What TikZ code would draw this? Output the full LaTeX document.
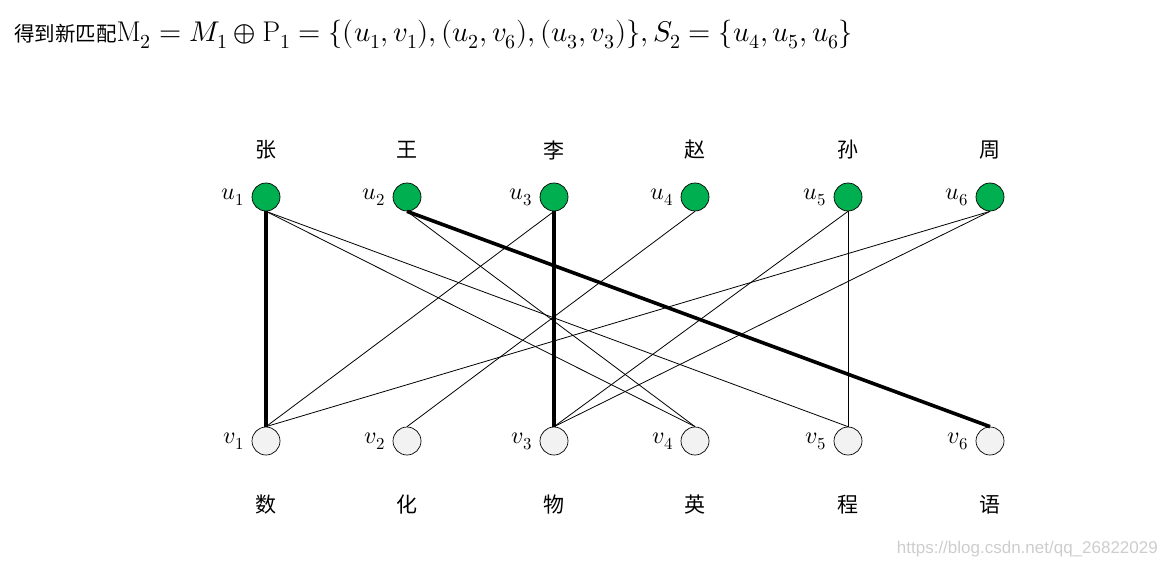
\documentclass[tikz,border=0pt]{standalone}
\usepackage{fontspec}
\usepackage{unicode-math}
\newfontfamily\cjk{Noto Sans CJK SC}
\newfontfamily\wmfont{Liberation Sans}
\definecolor{ugreen}{RGB}{0,176,80}
\definecolor{vgray}{RGB}{242,242,242}
\definecolor{wmgray}{RGB}{205,205,205}
\begin{document}
\begin{tikzpicture}[x=1pt,y=-1pt,
  unode/.style={circle,draw=black,fill=ugreen,minimum size=28pt,inner sep=0pt,line width=0.7pt},
  vnode/.style={circle,draw=black,fill=vgray,minimum size=28pt,inner sep=0pt,line width=0.7pt},
  lbl/.style={font=\fontsize{24}{28}\selectfont},
  cname/.style={font=\cjk\fontsize{21}{25}\selectfont},
  plainedge/.style={line width=0.8pt,draw=black},
  matchedge/.style={line width=3.6pt,draw=black}]
\useasboundingbox (0,0) rectangle (1166,567);
% title
\node[anchor=west,inner sep=0pt,font=\fontsize{28.5}{32}\selectfont] (title) at (14,35)
  {{\cjk\fontsize{20.5}{24}\selectfont 得到新匹配}$\mathrm{M}_2=M_1\oplus\mathrm{P}_1=\{(u_1,v_1),(u_2,v_6),(u_3,v_3)\},S_2=\{u_4,u_5,u_6\}$};
% nodes
\foreach \i/\x/\t/\b in {1/266/张/数,2/407/王/化,3/554/李/物,4/695/赵/英,5/848/孙/程,6/990/周/语}{
  \node[unode,label={[lbl,label distance=4pt]left:$u_{\i}$}] (u\i) at (\x,197) {};
  \node[vnode,label={[lbl,label distance=4pt]left:$v_{\i}$}] (v\i) at (\x,441) {};
  \node[cname] (t\i) at (\x,150) {\t};
  \node[cname] (b\i) at (\x,505) {\b};
}
% edges
\draw[plainedge] (u1.south) -- (v4.north);
\draw[plainedge] (u1.south) -- (v5.north);
\draw[plainedge] (u2.south) -- (v4.north);
\draw[plainedge] (u3.south) -- (v1.north);
\draw[plainedge] (u4.south) -- (v2.north);
\draw[plainedge] (u5.south) -- (v3.north);
\draw[plainedge] (u5.south) -- (v5.north);
\draw[plainedge] (u6.south) -- (v1.north);
\draw[plainedge] (u6.south) -- (v3.north);
\draw[matchedge] (u1.south) -- (v1.north);
\draw[matchedge] (u2.south) -- (v6.north);
\draw[matchedge] (u3.south) -- (v3.north);
% watermark
\node[anchor=east,inner sep=0pt,text=wmgray,font=\wmfont\fontsize{17}{20}\selectfont] (wm) at (1158,549) {https://blog.csdn.net/qq\_26822029};
\end{tikzpicture}
\end{document}
